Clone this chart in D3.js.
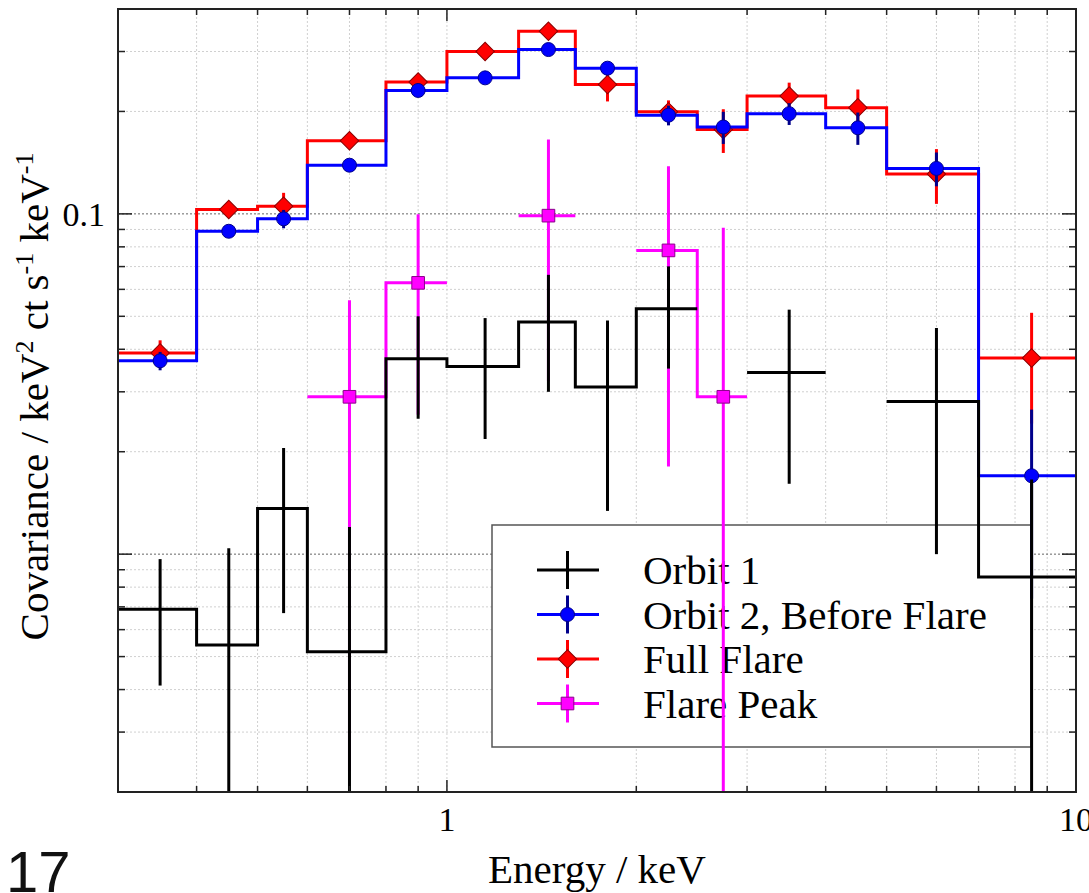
<!DOCTYPE html>
<html>
<head>
<meta charset="utf-8">
<script src="https://cdn.jsdelivr.net/npm/d3@7"></script>
<style>
  html, body { margin: 0; padding: 0; background: #fff; }
  svg { display: block; }
</style>
</head>
<body>
<svg id="chart" width="1089" height="893"></svg>
<script>
// bins in keV
const binLo = [0.3, 0.4, 0.5, 0.6, 0.8, 1.0, 1.3, 1.6, 2.0, 2.5, 3.0, 4.0, 5.0, 7.0];
const binHi = [0.4, 0.5, 0.6, 0.8, 1.0, 1.3, 1.6, 2.0, 2.5, 3.0, 4.0, 5.0, 7.0, 10.0];
const energy = [0.35, 0.45, 0.55, 0.7, 0.9, 1.15, 1.45, 1.8, 2.25, 2.75, 3.5, 4.5, 6, 8.5];

const orbit1 = [0.00689, 0.00541, 0.01361, 0.00517, 0.0375, 0.0356, 0.0481, 0.031, 0.0526, null, 0.0342, null, 0.0281, 0.00857];
const orbit1Err = [0.00278, 0.005, 0.0069, 0.00685, 0.0125, 0.0138, 0.0181, 0.0176, 0.0175, null, 0.0181, null, 0.0181, 0.008];

const orbit2 = [0.037, 0.0889, 0.0967, 0.139, 0.2305, 0.251, 0.304, 0.268, 0.195, 0.180, 0.197, 0.179, 0.136, 0.017];
const orbit2Err = [0.0023, 0.003, 0.006, 0.004, 0.006, 0.006, 0.007, 0.007, 0.013, 0.0195, 0.0145, 0.0195, 0.0155, 0.0096];

const fullFlare = [0.039, 0.103, 0.1053, 0.164, 0.244, 0.300, 0.344, 0.240, 0.1995, 0.177, 0.222, 0.205, 0.131, 0.0377];
const fullFlareErr = [0.0035, 0.004, 0.01, 0.005, 0.008, 0.008, 0.009, 0.026, 0.016, 0.026, 0.021, 0.027, 0.024, 0.0135];

const flarePeak = [null, null, null, 0.029, 0.0627, null, 0.0988, null, 0.0781, 0.029, null, null, null, null];
const flarePeakErr = [null, null, null, 0.0267, 0.037, null, 0.0666, null, 0.06, 0.062, null, null, null, null];

const xMajor = [1, 10];
const xMinor = [0.3, 0.4, 0.5, 0.6, 0.7, 0.8, 0.9, 2, 3, 4, 5, 6, 7, 8, 9];
const yMajor = [0.01, 0.1];
const yMinor = [0.002, 0.003, 0.004, 0.005, 0.006, 0.007, 0.008, 0.009,
  0.02, 0.03, 0.04, 0.05, 0.06, 0.07, 0.08, 0.09, 0.2, 0.3];
const xLabels = ["1", "10"];
const yLabels = ["0.1"];

const legendNames = ["Orbit 1", "Orbit 2, Before Flare", "Full Flare", "Flare Peak"];

const svg = d3.select("#chart"),
  plotLeft = 118,
  plotRight = 1076,
  plotTop = 9,
  plotBottom = 792,
  serif = "'Liberation Serif', 'Times New Roman', serif";

const x = d3.scaleLog().domain([0.3, 10]).range([plotLeft, plotRight]);
const y = d3.scaleLog().domain([0.002, 0.4]).range([plotBottom, plotTop]);

svg.append("defs")
  .append("clipPath")
  .attr("id", "plotClip")
  .append("rect")
  .attr("x", plotLeft)
  .attr("y", plotTop)
  .attr("width", plotRight - plotLeft)
  .attr("height", plotBottom - plotTop);

// grid
const grid = svg.append("g").attr("fill", "none").attr("stroke-width", 1);
grid.selectAll(null)
  .data(xMinor.concat(xMajor))
  .enter()
  .append("line")
  .attr("x1", (d) => x(d))
  .attr("x2", (d) => x(d))
  .attr("y1", plotTop)
  .attr("y2", plotBottom)
  .attr("stroke", "#d0d0d0")
  .attr("stroke-dasharray", "2,2");
grid.selectAll(null)
  .data(yMinor)
  .enter()
  .append("line")
  .attr("x1", plotLeft)
  .attr("x2", plotRight)
  .attr("y1", (d) => y(d))
  .attr("y2", (d) => y(d))
  .attr("stroke", "#d0d0d0")
  .attr("stroke-dasharray", "2,2");
grid.selectAll(null)
  .data(yMajor)
  .enter()
  .append("line")
  .attr("x1", plotLeft)
  .attr("x2", plotRight)
  .attr("y1", (d) => y(d))
  .attr("y2", (d) => y(d))
  .attr("stroke", "#666")
  .attr("stroke-dasharray", "2,2");

// legend sits under the data
const legend = svg.append("g");
legend.append("rect")
  .attr("x", 492)
  .attr("y", 525)
  .attr("width", 539)
  .attr("height", 222)
  .attr("fill", "#fff")
  .attr("stroke", "#555")
  .attr("stroke-width", 1.5);

const series = [
  { name: legendNames[0], vals: orbit1, errs: orbit1Err, color: "#000", bar: "#000", marker: null },
  { name: legendNames[1], vals: orbit2, errs: orbit2Err, color: "#0000ff", bar: "#00008b", marker: "circle", fill: "#0000ff", edge: "#00008b" },
  { name: legendNames[2], vals: fullFlare, errs: fullFlareErr, color: "#ff0000", bar: "#ff0000", marker: "diamond", fill: "#ff0000", edge: "#8b0000" },
  { name: legendNames[3], vals: flarePeak, errs: flarePeakErr, color: "#ff00ff", bar: "#ff00ff", marker: "square", fill: "#ff00ff", edge: "#8b008b" },
];

function drawMarker(g, s, cx, cy) {
  if (s.marker === "circle") {
    g.append("circle").attr("cx", cx).attr("cy", cy).attr("r", 7)
      .attr("fill", s.fill).attr("stroke", s.edge).attr("stroke-width", 1);
  } else if (s.marker === "diamond") {
    g.append("path")
      .attr("d", d3.symbol(d3.symbolSquare, 170)())
      .attr("transform", `translate(${cx},${cy}) rotate(45)`)
      .attr("fill", s.fill).attr("stroke", s.edge).attr("stroke-width", 1);
  } else if (s.marker === "square") {
    g.append("path")
      .attr("d", d3.symbol(d3.symbolSquare, 160)())
      .attr("transform", `translate(${cx},${cy})`)
      .attr("fill", s.fill).attr("stroke", s.edge).attr("stroke-width", 1);
  }
}

series.forEach((s, i) => {
  const ly = 570 + i * 44.5;
  const row = legend.append("g").attr("stroke-width", 3);
  row.append("line").attr("x1", 537).attr("x2", 599).attr("y1", ly).attr("y2", ly).attr("stroke", s.color);
  row.append("line").attr("x1", 567.5).attr("x2", 567.5).attr("y1", ly - 19).attr("y2", ly + 19).attr("stroke", s.bar);
  drawMarker(row, s, 567.5, ly);
  legend.append("text")
    .attr("x", 643)
    .attr("y", ly + 14)
    .attr("font-family", serif)
    .attr("font-size", 41)
    .attr("fill", "#000")
    .text(s.name);
});

// data: drawn in reverse legend order
const plot = svg.append("g").attr("clip-path", "url(#plotClip)");
const stepLine = d3.line()
  .x((d) => x(d[0]))
  .y((d) => y(d[1]))
  .curve(d3.curveStepAfter);

function runsOf(vals) {
  const runs = [];
  let cur = [];
  vals.forEach((v, i) => {
    if (v == null) {
      if (cur.length) runs.push(cur);
      cur = [];
    } else cur.push(i);
  });
  if (cur.length) runs.push(cur);
  return runs;
}

series.slice().reverse().forEach((s) => {
  const g = plot.append("g");
  runsOf(s.vals).forEach((run) => {
    const pts = run.map((i) => [binLo[i], s.vals[i]]);
    const last = run[run.length - 1];
    pts.push([binHi[last], s.vals[last]]);
    g.append("path")
      .attr("d", stepLine(pts))
      .attr("fill", "none")
      .attr("stroke", s.color)
      .attr("stroke-width", 3)
      .attr("stroke-linejoin", "miter");
  });
  s.vals.forEach((v, i) => {
    if (v == null) return;
    const lo = Math.max(v - s.errs[i], 1e-5);
    g.append("line")
      .attr("x1", x(energy[i]))
      .attr("x2", x(energy[i]))
      .attr("y1", y(v + s.errs[i]))
      .attr("y2", y(lo))
      .attr("stroke", s.bar)
      .attr("stroke-width", 3);
    drawMarker(g, s, x(energy[i]), y(v));
  });
});

// frame and ticks
const axes = svg.append("g").attr("stroke", "#222");
axes.append("rect")
  .attr("x", plotLeft)
  .attr("y", plotTop)
  .attr("width", plotRight - plotLeft)
  .attr("height", plotBottom - plotTop)
  .attr("fill", "none")
  .attr("stroke-width", 2);

function xTicks(vals, len) {
  axes.selectAll(null).data(vals).enter().append("line")
    .attr("x1", (d) => x(d)).attr("x2", (d) => x(d))
    .attr("y1", plotBottom).attr("y2", plotBottom - len).attr("stroke-width", 1.5);
  axes.selectAll(null).data(vals).enter().append("line")
    .attr("x1", (d) => x(d)).attr("x2", (d) => x(d))
    .attr("y1", plotTop).attr("y2", plotTop + len).attr("stroke-width", 1.5);
}
function yTicks(vals, len) {
  axes.selectAll(null).data(vals).enter().append("line")
    .attr("x1", plotLeft).attr("x2", plotLeft + len)
    .attr("y1", (d) => y(d)).attr("y2", (d) => y(d)).attr("stroke-width", 1.5);
  axes.selectAll(null).data(vals).enter().append("line")
    .attr("x1", plotRight).attr("x2", plotRight - len)
    .attr("y1", (d) => y(d)).attr("y2", (d) => y(d)).attr("stroke-width", 1.5);
}
xTicks(xMinor, 6);
xTicks(xMajor, 12);
yTicks(yMinor, 7);
yTicks(yMajor, 14);

svg.selectAll(null)
  .data(xMajor)
  .enter()
  .append("text")
  .attr("x", (d) => x(d))
  .attr("y", 831)
  .attr("text-anchor", "middle")
  .attr("font-family", serif)
  .attr("font-size", 34)
  .text((d, i) => xLabels[i]);

svg.selectAll(null)
  .data([0.1])
  .enter()
  .append("text")
  .attr("x", 105)
  .attr("y", (d) => y(d) + 12)
  .attr("text-anchor", "end")
  .attr("font-family", serif)
  .attr("font-size", 34)
  .text((d, i) => yLabels[i]);

svg.append("text")
  .attr("x", (plotLeft + plotRight) / 2)
  .attr("y", 883)
  .attr("text-anchor", "middle")
  .attr("font-family", serif)
  .attr("font-size", 41)
  .text("Energy / keV");

const yTitle = svg.append("text")
  .attr("transform", `translate(48,${(plotTop + plotBottom) / 2 - 4}) rotate(-90)`)
  .attr("text-anchor", "middle")
  .attr("font-family", serif)
  .attr("font-size", 41);
yTitle.append("tspan").text("Covariance / keV");
yTitle.append("tspan").attr("font-size", 26).attr("dy", -15).text("2");
yTitle.append("tspan").attr("dy", 15).text(" ct s");
yTitle.append("tspan").attr("font-size", 26).attr("dy", -15).text("-1");
yTitle.append("tspan").attr("dy", 15).text(" keV");
yTitle.append("tspan").attr("font-size", 26).attr("dy", -15).text("-1");

svg.append("text")
  .attr("x", 6)
  .attr("y", 892)
  .attr("font-family", "'Liberation Sans', Arial, sans-serif")
  .attr("font-size", 58)
  .attr("fill", "#111")
  .text("17");
</script>
</body>
</html>
